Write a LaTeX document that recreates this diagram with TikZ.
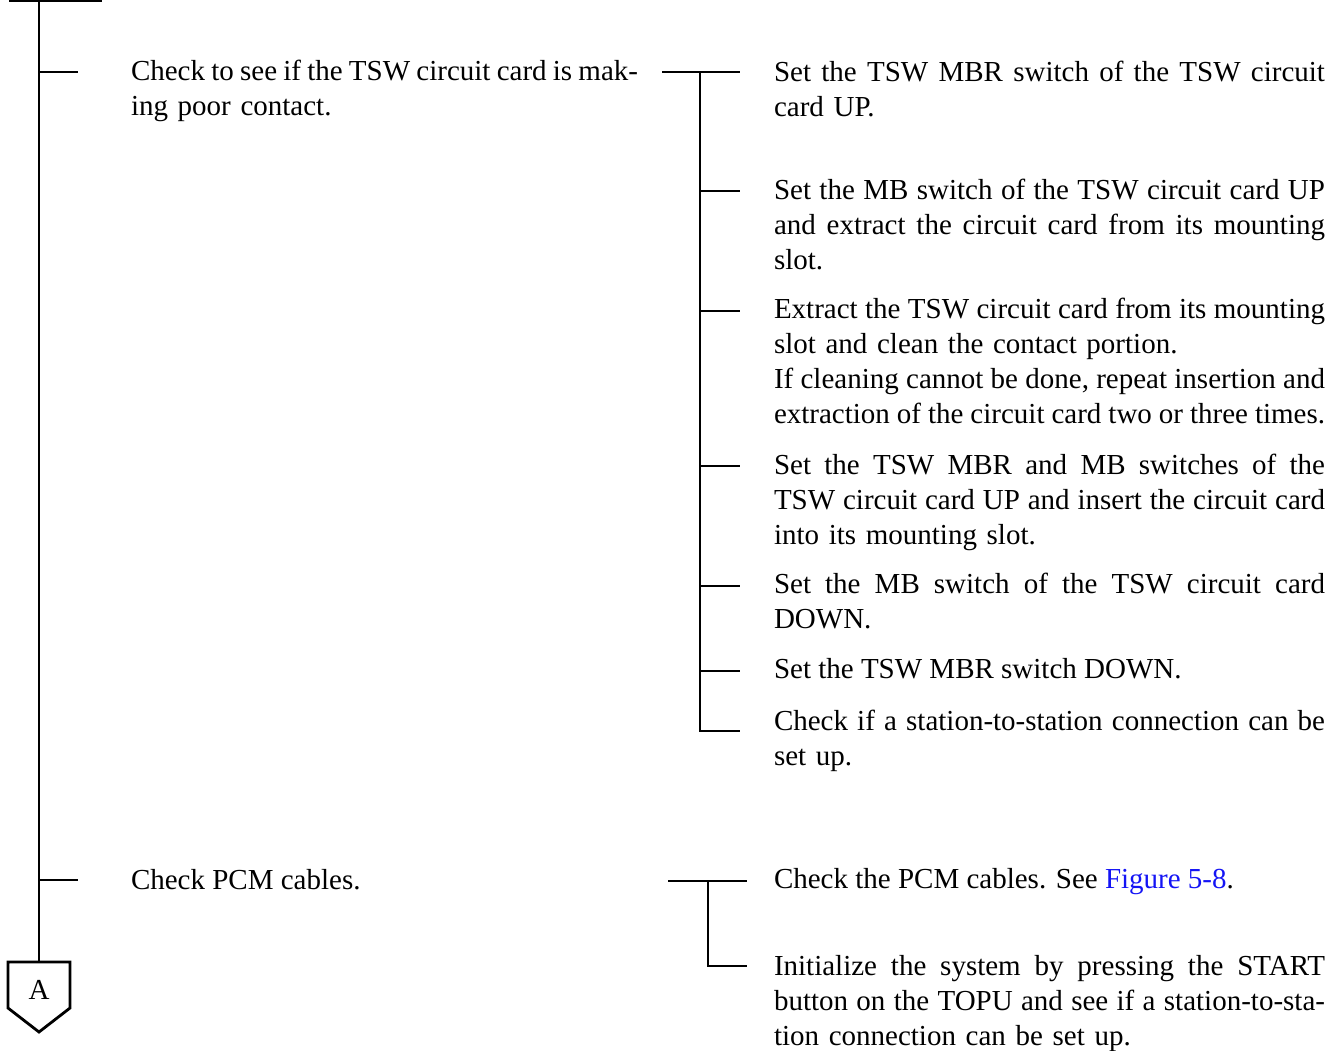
\documentclass[tikz,border=0pt]{standalone}
\usepackage{fontspec}
\setmainfont{Liberation Serif}
\definecolor{linkblue}{RGB}{20,20,245}
\newcommand{\jr}[1]{\makebox[551pt][s]{\spaceskip=.25em plus .6em minus .12em #1}}
\newcommand{\jlf}[1]{\makebox[507pt][s]{\spaceskip=.25em plus .6em minus .12em #1}}
\begin{document}
\begin{tikzpicture}[x=1pt,y=-1pt,
  wire/.style={line width=2.8pt},
  txt/.style={anchor=base west,inner sep=0pt,outer sep=0pt,align=left,
    font=\fontsize{29}{35}\selectfont},
  rtxt/.style={txt,text width=551pt},
  ltxt/.style={txt,text width=507pt}]
\useasboundingbox (0,0) rectangle (1340,1050);
% left column
\node[ltxt] (l1) at (131,80) {\jlf{Check to see if the TSW circuit card is mak-}\\ing poor contact.};
\node[txt] (l2) at (131,889) {Check PCM cables.};
% right column
\node[rtxt] (r1) at (774,81) {\jr{Set the TSW MBR switch of the TSW circuit}\\card UP.};
\node[rtxt] (r2) at (774,199) {\jr{Set the MB switch of the TSW circuit card UP}\\\jr{and extract the circuit card from its mounting}\\slot.};
\node[rtxt] (r3) at (774,318) {\jr{Extract the TSW circuit card from its mounting}\\slot and clean the contact portion.\\\jr{If cleaning cannot be done, repeat insertion and}\\\jr{extraction of the circuit card two or three times.}};
\node[rtxt] (r4) at (774,474) {\jr{Set the TSW MBR and MB switches of the}\\\jr{TSW circuit card UP and insert the circuit card}\\into its mounting slot.};
\node[rtxt] (r5) at (774,593) {\jr{Set the MB switch of the TSW circuit card}\\DOWN.};
\node[txt] (r6) at (774,678) {Set the TSW MBR switch DOWN.};
\node[rtxt] (r7) at (774,730) {\jr{Check if a station-to-station connection can be}\\set up.};
\node[txt] (r8) at (774,888) {Check the PCM cables. See \textcolor{linkblue}{Figure 5-8}.};
\node[rtxt] (r9) at (774,975) {\jr{Initialize the system by pressing the START}\\\jr{button on the TOPU and see if a station-to-sta-}\\tion connection can be set up.};
% trunk
\coordinate (ttop) at (39,0);
\coordinate (tbot) at (39,962);
\draw[wire] (9,0.8) -- (102,0.8);
\draw[wire] (ttop) -- (tbot);
\draw[wire] (39,72) -- (78,72);
\draw[wire] (39,880) -- (78,880);
% off-page connector A
\draw[wire] (8,962) -- (70,962) -- (70,1008) -- (39,1032) -- (8,1008) -- cycle;
\node[txt,anchor=center] (A) at (39,990) {A};
% bracket 1
\draw[wire] (662,72) -- (740,72);
\draw[wire] (700,72) -- (700,731) -- (740,731);
\foreach \yy in {191,311,466,586,671} \draw[wire] (700,\yy) -- (740,\yy);
% bracket 2
\draw[wire] (668,881) -- (747,881);
\draw[wire] (708,881) -- (708,966) -- (747,966);
\end{tikzpicture}
\end{document}
